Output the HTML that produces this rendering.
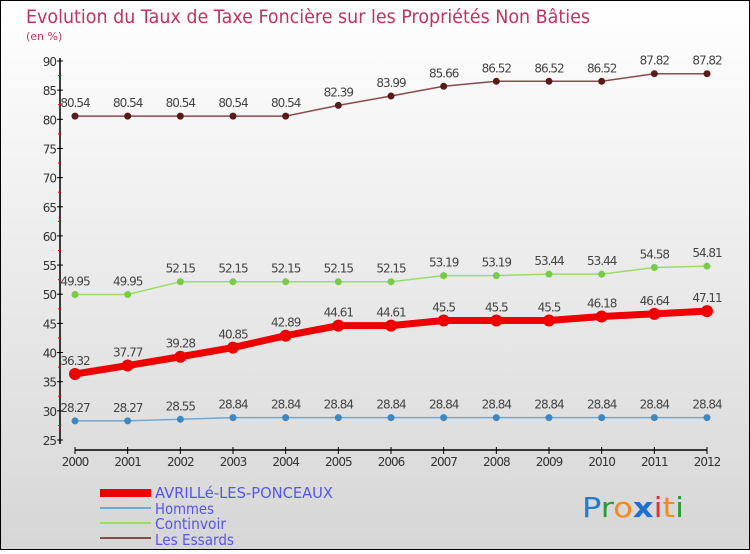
<!DOCTYPE html>
<html><head><meta charset="utf-8"><style>
html,body{margin:0;padding:0}
body{width:750px;height:550px;overflow:hidden;font-family:"DejaVu Sans","Liberation Sans",sans-serif}
</style></head><body>
<svg id="chart" width="750" height="550" xmlns="http://www.w3.org/2000/svg">
<defs><linearGradient id="bg" x1="0" y1="0" x2="0" y2="1"><stop offset="0" stop-color="#ffffff"/><stop offset="1" stop-color="#d6d6d6"/></linearGradient></defs>
<rect x="0.5" y="0.5" width="749" height="549" fill="url(#bg)" stroke="#000"/>
<text x="26" y="23" font-size="19" fill="#c0335e" textLength="564" lengthAdjust="spacingAndGlyphs">Evolution du Taux de Taxe Foncière sur les Propriétés Non Bâties</text>
<text x="26" y="40" font-size="11" fill="#c0335e">(en %)</text>
<g id="axes"></g><g id="series"></g>
<g>
<rect x="100" y="489" width="51" height="8" fill="#ee0000"/>
<text x="155" y="498" font-size="15" fill="#5555ee" textLength="178" lengthAdjust="spacingAndGlyphs">AVRILLé-LES-PONCEAUX</text>
<line x1="100" y1="508" x2="151" y2="508" stroke="#6fa7d6" stroke-width="2"/>
<text x="155" y="514" font-size="15" fill="#5555ee" textLength="59" lengthAdjust="spacingAndGlyphs">Hommes</text>
<line x1="100" y1="523" x2="151" y2="523" stroke="#99dd66" stroke-width="2"/>
<text x="155" y="529" font-size="15" fill="#5555ee" textLength="71" lengthAdjust="spacingAndGlyphs">Continvoir</text>
<line x1="100" y1="538" x2="151" y2="538" stroke="#8b4a4a" stroke-width="2"/>
<text x="155" y="545" font-size="15" fill="#5555ee" textLength="79" lengthAdjust="spacingAndGlyphs">Les Essards</text>
</g>
<text x="582" y="517" font-size="28" textLength="102" lengthAdjust="spacingAndGlyphs"><tspan fill="#1e7fd0">P</tspan><tspan fill="#2a9a3a">r</tspan><tspan fill="#f08a1a">o</tspan><tspan fill="#1e6fd0" font-weight="bold">x</tspan><tspan fill="#e03030">i</tspan><tspan fill="#f08a1a">t</tspan><tspan fill="#2a9a3a">i</tspan></text>
</svg>
<script>
const years=[2000,2001,2002,2003,2004,2005,2006,2007,2008,2009,2010,2011,2012];
const avrille=[36.32,37.77,39.28,40.85,42.89,44.61,44.61,45.5,45.5,45.5,46.18,46.64,47.11];
const hommes=[28.27,28.27,28.55,28.84,28.84,28.84,28.84,28.84,28.84,28.84,28.84,28.84,28.84];
const continvoir=[49.95,49.95,52.15,52.15,52.15,52.15,52.15,53.19,53.19,53.44,53.44,54.58,54.81];
const essards=[80.54,80.54,80.54,80.54,80.54,82.39,83.99,85.66,86.52,86.52,86.52,87.82,87.82];
const yTicks=[25,30,35,40,45,50,55,60,65,70,75,80,85,90];
const NS="http://www.w3.org/2000/svg";
const x=i=>75+i*(707-75)/(years.length-1);
const y=v=>440-(v-25)*(440-61)/65;
function mk(tag,attrs,parent){const e=document.createElementNS(NS,tag);for(const k in attrs)e.setAttribute(k,attrs[k]);parent.appendChild(e);return e;}
const ax=document.getElementById('axes');
const yaxis=mk('line',{x1:60,y1:58,x2:60,y2:444,stroke:'#000','stroke-width':1.5},ax);


yTicks.forEach(t=>{
  mk('line',{x1:57,x2:63,y1:y(t),y2:y(t),stroke:'#000'},ax);
  if(t<90)mk('line',{x1:58,x2:61,y1:y(t+2.5),y2:y(t+2.5),stroke:'#e00'},ax);
  const tx=mk('text',{x:56,y:y(t)+5,'text-anchor':'end','font-size':12,fill:'#333','letter-spacing':'-1'},ax);
  tx.textContent=t;
  
  
});
const xaxis=mk('line',{x1:75,y1:450,x2:707,y2:450,stroke:'#000','stroke-width':1.5},ax);


years.forEach((yr,i)=>{
  mk('line',{x1:x(i),x2:x(i),y1:447,y2:454,stroke:'#000'},ax);
  const tx=mk('text',{x:x(i),y:466,'text-anchor':'middle','font-size':12,fill:'#333','letter-spacing':'-1'},ax);
  tx.textContent=yr;
  
  
});
const sg=document.getElementById('series');
function series(name,vals,color,dot,w,r){
  const g=mk('g',{},sg);
  
  
  mk('polyline',{points:vals.map((v,i)=>x(i)+','+y(v)).join(' '),fill:'none',stroke:color,'stroke-width':w},g);
  vals.forEach((v,i)=>{
    const c=mk('circle',{cx:x(i),cy:y(v),r:r,fill:dot},g);
    
    
    const t=mk('text',{x:x(i),y:y(v)-9,'text-anchor':'middle','font-size':12,fill:'#444','letter-spacing':'-1'},g);
    t.textContent=String(v);
    
    
  });
}
series('les-essards',essards,'#8b4a4a','#5a1a1a',1.5,3.5);
series('continvoir',continvoir,'#99dd66','#77cc44',1.5,3.5);
series('hommes',hommes,'#6fa7d6','#3b88c4',1.5,3.5);
series('avrille',avrille,'#ee0000','#ee0000',7,6);
</script>
</body></html>
